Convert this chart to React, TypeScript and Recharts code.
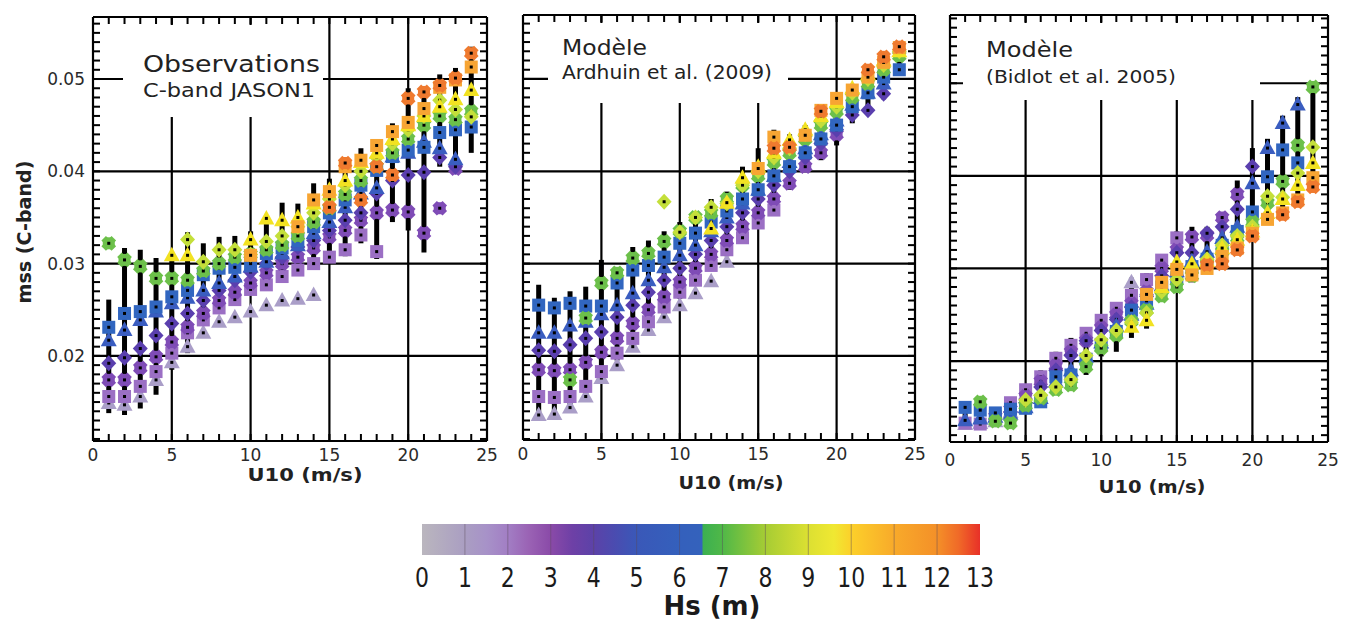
import React from 'react';
import { ScatterChart, Scatter, XAxis, YAxis, CartesianGrid, ErrorBar } from 'recharts';

// ---------- data ----------
const U10 = [1, 2, 3, 4, 5, 6, 7, 8, 9, 10, 11, 12, 13, 14, 15, 16, 17, 18, 19, 20, 21, 22, 23, 24];
const _ = null;

// Hs classes: colour + marker shape
const CLASS_COLORS = ['#aa9ec8', '#9b6fc4', '#7f4cb6', '#5a3fae', '#3a5dc0', '#3166c0', '#6cc04a', '#c4df3a', '#f2e222', '#f7a533', '#ef7a2f'];
const CLASS_SHAPES = ['tri', 'sq', 'cross', 'dia', 'tri', 'sq', 'cross', 'dia', 'tri', 'sq', 'cross'];

// Panel 1 : Observations C-band JASON1
const OBS_C0 = [0.0149, 0.0147, 0.0156, 0.0174, 0.0193, 0.021, 0.0225, 0.0237, 0.0242, 0.0248, 0.0255, 0.026, 0.0262, 0.0266, _, _, _, _, _, _, _, _, _, _];
const OBS_C1 = [0.0156, 0.0156, 0.0167, 0.0183, 0.0203, 0.0225, 0.0239, 0.0252, 0.0261, 0.0272, 0.0277, 0.0286, 0.0293, 0.03, 0.0307, 0.0315, 0.0331, 0.0313, _, _, _, _, _, _];
const OBS_C2 = [0.0174, 0.0174, 0.0187, 0.0199, 0.0215, 0.0231, 0.0246, 0.026, 0.0269, 0.0279, 0.029, 0.03, 0.0307, 0.0317, 0.0329, 0.0336, 0.0347, 0.0355, 0.0358, 0.0356, 0.0333, 0.036, 0.0403, _];
const OBS_C3 = [0.0192, 0.0198, 0.0208, 0.0222, 0.0235, 0.0246, 0.026, 0.0271, 0.0282, 0.0291, 0.03, 0.0307, 0.0318, 0.0325, 0.0336, 0.0347, 0.0355, 0.0376, 0.039, 0.0396, 0.0399, 0.0415, 0.0405, _];
const OBS_C4 = [0.0217, 0.0228, 0.0239, 0.0248, 0.0257, 0.0263, 0.0271, 0.0279, 0.0286, 0.0297, 0.0302, 0.0311, 0.032, 0.0333, 0.0345, 0.0361, 0.0376, 0.0382, 0.0416, 0.042, 0.0432, 0.0425, 0.0413, _];
const OBS_C5 = [0.0231, 0.0246, 0.0248, 0.0253, 0.0264, 0.0271, 0.0288, 0.0295, 0.0296, 0.03, 0.0311, 0.0317, 0.0325, 0.034, 0.0355, 0.0369, 0.0385, 0.0401, 0.0416, 0.0423, 0.0426, 0.0442, 0.0445, 0.0448];
const OBS_C6 = [0.0322, 0.0304, 0.0297, 0.0284, 0.0284, 0.0282, 0.0292, 0.03, 0.0307, 0.031, 0.0315, 0.032, 0.033, 0.0345, 0.036, 0.0375, 0.039, 0.0405, 0.042, 0.0435, 0.045, 0.046, 0.0456, 0.0465];
const OBS_C7 = [_, _, _, _, _, 0.0326, 0.0302, 0.0315, 0.0315, 0.031, 0.0324, 0.033, 0.034, 0.0355, 0.037, 0.0385, 0.04, 0.0415, 0.043, 0.0445, 0.046, 0.0477, 0.0467, 0.0459];
const OBS_C8 = [_, _, _, _, 0.0309, 0.0309, _, _, _, 0.0326, 0.0349, 0.0347, 0.035, 0.0365, 0.038, 0.039, 0.041, 0.042, 0.0435, 0.045, 0.046, 0.047, 0.0478, 0.0488];
const OBS_C9 = [_, _, _, _, _, _, _, _, _, 0.0309, _, _, 0.034, 0.0369, 0.0378, 0.0405, 0.0412, 0.0428, 0.0443, 0.0453, 0.0468, 0.0491, 0.0499, 0.0513];
const OBS_C10 = [_, _, _, _, _, _, _, _, _, _, _, _, _, _, 0.0361, 0.0409, 0.0369, 0.0405, 0.0396, 0.0479, 0.0486, 0.0493, 0.0501, 0.0528];
const OBS_BAR_LO = [0.0138, 0.0136, 0.0143, 0.0158, 0.0185, 0.0203, 0.0235, 0.025, 0.0258, 0.0268, 0.028, 0.0288, 0.0295, 0.0298, 0.0303, 0.0308, 0.0322, 0.0305, 0.0345, 0.0336, 0.0312, 0.0405, 0.04, 0.042];
const OBS_BAR_HI = [0.0261, 0.0317, 0.0315, 0.0306, 0.0307, 0.0334, 0.0322, 0.0329, 0.033, 0.0335, 0.0345, 0.0366, 0.0365, 0.0387, 0.0392, 0.0412, 0.0425, 0.0432, 0.0452, 0.049, 0.0485, 0.0505, 0.0512, 0.0535];

// Panel 2 : Modèle Ardhuin et al. (2009)
const ARD_C0 = [0.0136, 0.0137, 0.0144, 0.0156, 0.0176, 0.019, 0.021, 0.0228, 0.0242, 0.0255, 0.0268, 0.0281, 0.0302, _, _, _, _, _, _, _, _, _, _, _];
const ARD_C1 = [0.0156, 0.0155, 0.0156, 0.0167, 0.0183, 0.0203, 0.0219, 0.0237, 0.0253, 0.0269, 0.0282, 0.0298, 0.0315, 0.0328, 0.0344, 0.0358, _, _, _, _, _, _, _, _];
const ARD_C2 = [0.0185, 0.0184, 0.0185, 0.0193, 0.0204, 0.0219, 0.0235, 0.025, 0.0264, 0.028, 0.0295, 0.031, 0.0325, 0.034, 0.0355, 0.037, 0.0387, 0.0405, 0.042, 0.044, _, _, _, _];
const ARD_C3 = [0.0206, 0.0205, 0.0212, 0.0219, 0.0226, 0.0242, 0.0255, 0.0269, 0.0282, 0.0295, 0.031, 0.0325, 0.034, 0.0355, 0.037, 0.0385, 0.04, 0.0415, 0.043, 0.0445, 0.0461, 0.0466, 0.0484, _];
const ARD_C4 = [0.0225, 0.0225, 0.0233, 0.0237, 0.0245, 0.0255, 0.0268, 0.0282, 0.0296, 0.0309, 0.032, 0.0335, 0.035, 0.0365, 0.038, 0.0395, 0.041, 0.0425, 0.044, 0.0455, 0.0472, 0.0485, 0.0495, _];
const ARD_C5 = [0.0255, 0.0252, 0.0257, 0.0254, 0.0254, 0.0279, 0.0293, 0.0298, 0.0307, 0.0322, 0.0333, 0.0345, 0.0357, 0.037, 0.038, 0.0395, 0.0405, 0.042, 0.0435, 0.045, 0.047, 0.0485, 0.0502, 0.051];
const ARD_C6 = [_, _, 0.0174, 0.0241, 0.0279, 0.029, 0.0306, 0.0311, 0.0324, 0.0335, 0.035, 0.0355, 0.037, 0.0385, 0.0395, 0.041, 0.042, 0.0435, 0.045, 0.0465, 0.048, 0.0495, 0.051, 0.0525];
const ARD_C7 = [_, _, _, _, _, _, _, _, 0.0367, 0.0334, 0.035, 0.0361, 0.0365, 0.0385, 0.04, 0.0415, 0.0425, 0.044, 0.0455, 0.047, 0.0485, 0.05, 0.0515, 0.053];
const ARD_C8 = [_, _, _, _, _, _, _, _, _, _, _, 0.0338, 0.0366, 0.0393, 0.0405, 0.042, 0.0434, 0.0445, 0.046, 0.0475, 0.049, 0.0505, 0.052, 0.053];
const ARD_C9 = [_, _, _, _, _, _, _, _, _, _, _, _, _, _, 0.0403, 0.0437, _, 0.0439, 0.0466, 0.0479, 0.0488, 0.0502, 0.0518, 0.0534];
const ARD_C10 = [_, _, _, _, _, _, _, _, _, _, _, _, _, _, _, 0.0425, 0.0426, _, 0.0465, _, _, 0.051, 0.0524, 0.0535];
const ARD_BAR_LO = [0.0134, 0.0136, 0.0141, 0.0152, 0.0175, 0.0195, 0.0215, 0.023, 0.0245, 0.0262, 0.0278, 0.0292, 0.0308, 0.0325, 0.034, 0.0355, 0.038, 0.04, 0.0412, 0.0428, 0.0452, 0.0462, 0.0478, 0.0505];
const ARD_BAR_HI = [0.0277, 0.0263, 0.027, 0.0275, 0.0304, 0.0292, 0.0318, 0.0325, 0.0335, 0.0345, 0.0355, 0.037, 0.0378, 0.0405, 0.0425, 0.0445, 0.044, 0.045, 0.0468, 0.0482, 0.0492, 0.0508, 0.0522, 0.0535];

// Panel 3 : Modèle (Bidlot et al. 2005)
const BID_C0 = [0.0132, 0.0133, 0.0135, 0.0145, _, _, _, _, _, _, _, 0.0285, _, _, _, _, _, _, _, _, _, _, _, _];
const BID_C1 = [0.0133, 0.0132, 0.014, 0.0155, 0.0169, 0.0183, 0.0203, 0.0217, 0.023, 0.0244, 0.0257, 0.0271, 0.0288, 0.0309, 0.0333, _, _, _, _, _, _, _, _, _];
const BID_C2 = [_, _, 0.014, 0.0148, 0.0162, 0.0178, 0.0195, 0.021, 0.0222, 0.0236, 0.025, 0.0262, 0.0275, 0.03, 0.032, 0.0334, 0.0336, 0.0355, 0.038, _, _, _, _, _];
const BID_C3 = [_, _, _, 0.0145, 0.0155, 0.0172, 0.019, 0.0206, 0.0222, 0.0233, 0.0245, 0.0258, 0.027, 0.0292, 0.0317, 0.0317, 0.0338, 0.0345, 0.0364, 0.041, _, _, _, _];
const BID_C4 = [0.0136, 0.0138, 0.014, 0.0143, 0.015, 0.016, 0.0178, 0.019, 0.0205, 0.022, 0.0238, 0.025, 0.0262, 0.0282, 0.0297, 0.0308, 0.0318, 0.0333, 0.0345, 0.0392, 0.043, 0.0457, 0.0477, _];
const BID_C5 = [0.015, 0.0147, 0.0144, 0.0148, 0.0149, 0.0156, 0.0183, 0.0185, 0.0202, 0.0218, 0.0232, 0.0255, 0.0265, 0.028, 0.029, 0.0302, 0.031, 0.0325, 0.034, 0.0361, 0.0399, 0.0428, 0.0414, _];
const BID_C6 = [_, 0.0156, 0.0135, 0.0133, 0.0152, 0.016, 0.0169, 0.0174, 0.0194, 0.0214, 0.0228, 0.0243, 0.0255, 0.027, 0.028, 0.0292, 0.0305, 0.0318, 0.0333, 0.035, 0.0371, 0.0394, 0.0433, 0.0496];
const BID_C7 = [_, _, _, _, 0.0158, 0.0163, 0.0172, 0.018, 0.0206, 0.0223, 0.0233, 0.0242, 0.0252, 0.0275, 0.0288, 0.03, 0.031, 0.0325, 0.0335, 0.0345, 0.0378, 0.0377, 0.0403, 0.0431];
const BID_C8 = [_, _, _, _, _, _, _, _, _, _, _, 0.0237, 0.0244, 0.028, 0.0307, 0.0305, 0.0308, 0.0322, 0.0331, 0.034, 0.036, 0.0375, 0.039, 0.0414];
const BID_C9 = [_, _, _, _, _, _, _, _, _, _, _, _, 0.0272, 0.0285, 0.0299, 0.0293, 0.03, 0.0313, 0.0322, 0.0338, 0.0353, 0.036, 0.0374, 0.0398];
const BID_C10 = [_, _, _, _, _, _, _, _, _, _, _, _, _, _, _, _, 0.0304, 0.0305, 0.032, 0.0335, _, 0.0358, 0.0372, 0.0388];
const BID_BAR_LO = [0.0128, 0.0128, 0.013, 0.013, 0.0145, 0.015, 0.0165, 0.017, 0.0185, 0.0205, 0.021, 0.0225, 0.0235, 0.0265, 0.028, 0.0285, 0.0295, 0.0305, 0.032, 0.0335, 0.035, 0.0355, 0.037, 0.0385];
const BID_BAR_HI = [0.0155, 0.016, 0.015, 0.016, 0.0175, 0.019, 0.021, 0.0225, 0.0235, 0.025, 0.0262, 0.029, 0.0295, 0.0315, 0.034, 0.0345, 0.0345, 0.035, 0.0395, 0.043, 0.044, 0.0465, 0.0485, 0.05];

// axes / ticks
const X_TICKS = [0, 5, 10, 15, 20, 25];
const X_MINOR = [1, 2, 3, 4, 5, 6, 7, 8, 9, 10, 11, 12, 13, 14, 15, 16, 17, 18, 19, 20, 21, 22, 23, 24];
const Y_TICKS = [0.02, 0.03, 0.04, 0.05];
const Y_MINOR = [0.011, 0.012, 0.013, 0.014, 0.015, 0.016, 0.017, 0.018, 0.019, 0.02, 0.021, 0.022, 0.023, 0.024, 0.025, 0.026, 0.027, 0.028, 0.029, 0.03, 0.031, 0.032, 0.033, 0.034, 0.035, 0.036, 0.037, 0.038, 0.039, 0.04, 0.041, 0.042, 0.043, 0.044, 0.045, 0.046, 0.047, 0.048, 0.049, 0.05, 0.051, 0.052, 0.053, 0.054, 0.055, 0.056, 0.057];

// colour bar
const HS_TICKS = ['0', '1', '2', '3', '4', '5', '6', '7', '8', '9', '10', '11', '12', '13'];
const CB_STOP_HS = [0, 1, 1.5, 2, 2.5, 3, 3.5, 4, 4.5, 5, 6, 6.52, 6.55, 7, 8, 9, 9.6, 10, 11, 12, 12.5, 13];
const CB_STOP_COL = ['#bab6be', '#aa9ec2', '#a792c8', '#a27ec4', '#9a62b4', '#8a4aa8', '#6e40a6', '#5c42a8', '#4a4cb0', '#3a58b8', '#3460bc', '#3462bc', '#3cb050', '#50b848', '#a6cc34', '#dce032', '#f0e832', '#fcd02a', '#f8aa2a', '#f49028', '#f06a28', '#e83028'];

// ---------- rendering ----------
type Pt = { x: number; y: number };
function pts(vals: (number | null)[]): Pt[] {
  const out: Pt[] = [];
  U10.forEach((u, i) => {
    const v = vals[i];
    if (v != null) out.push({ x: u, y: v });
  });
  return out;
}
function bars(lo: number[], hi: number[]) {
  return U10.map((u, i) => ({ x: u, y: (lo[i] + hi[i]) / 2, err: [(hi[i] - lo[i]) / 2, (hi[i] - lo[i]) / 2] }));
}

function Marker(props: any) {
  const { cx, cy, kind, color } = props;
  if (cx == null || cy == null || isNaN(cx) || isNaN(cy)) return <g />;
  let el: any = null;
  if (kind === 'sq') el = <rect x={cx - 6.5} y={cy - 6.5} width={13} height={13} fill={color} />;
  else if (kind === 'tri') el = <polygon points={`${cx},${cy - 8.5} ${cx + 8},${cy + 6} ${cx - 8},${cy + 6}`} fill={color} />;
  else if (kind === 'dia') el = <polygon points={`${cx},${cy - 8} ${cx + 7.5},${cy} ${cx},${cy + 8} ${cx - 7.5},${cy}`} fill={color} />;
  else
    el = (
      <g transform={`translate(${cx},${cy})`}>
        <g transform="rotate(45)">
          <rect x={-7.2} y={-3.2} width={14.4} height={6.4} fill={color} />
          <rect x={-3.2} y={-7.2} width={6.4} height={14.4} fill={color} />
        </g>
        <rect x={-6} y={-2.6} width={12} height={5.2} fill={color} />
        <rect x={-2.6} y={-6} width={5.2} height={12} fill={color} />
      </g>
    );
  return (
    <g>
      {el}
      <rect x={cx - 1.5} y={cy - 1.5} width={3} height={3} fill="#000" />
    </g>
  );
}

const EmptyTick = () => <g />;
const ML = 60, MT = 10, MB = 40, MR = 10;
const FRAME = { stroke: '#000', strokeWidth: 2.5 };

type PanelGeom = { left: number; top: number; w: number; h: number; domain: [number, number] };
const P1: PanelGeom = { left: 93, top: 17, w: 394, h: 424, domain: [0.01078, 0.05672] };
const P2: PanelGeom = { left: 523, top: 15, w: 392, h: 425, domain: [0.01089, 0.05693] };
const P3: PanelGeom = { left: 950, top: 15, w: 378, h: 427, domain: [0.01126, 0.05737] };

function Panel(props: PanelGeom & { showY: boolean; classes: (number | null)[][]; lo: number[]; hi: number[]; tickMargin: number }) {
  const { left, top, w, h, domain, showY, classes, lo, hi, tickMargin } = props;
  return (
    <div style={{ position: 'absolute', left: left - ML, top: top - MT }}>
      <ScatterChart width={w + ML + MR} height={h + MT + MB} margin={{ top: MT, right: MR, left: 0, bottom: 0 }}>
        <CartesianGrid stroke="#000" strokeWidth={2.2} fill="none" />
        <XAxis xAxisId={0} type="number" dataKey="x" domain={[0, 25]} ticks={X_TICKS} allowDataOverflow height={MB}
          tickLine={false} axisLine={false} tickSize={6} tickMargin={tickMargin}
          tick={{ fill: '#2a2a2a', fontSize: 17, fontFamily: 'DejaVu Sans' }} />
        <XAxis xAxisId="top" orientation="top" mirror type="number" domain={[0, 25]} ticks={X_TICKS} allowDataOverflow height={0}
          tick={EmptyTick} tickLine={false} axisLine={FRAME} />
        <XAxis xAxisId="bot" orientation="bottom" mirror type="number" domain={[0, 25]} ticks={X_TICKS} allowDataOverflow height={0}
          tick={EmptyTick} tickLine={false} axisLine={FRAME} />
        <YAxis yAxisId={0} type="number" dataKey="y" domain={domain} ticks={Y_TICKS} allowDataOverflow width={ML}
          tickLine={false} axisLine={false} tickSize={6} tickMargin={2}
          tickFormatter={(v: number) => v.toFixed(2)}
          tick={showY ? { fill: '#2a2a2a', fontSize: 17, fontFamily: 'DejaVu Sans' } : EmptyTick} />
        <YAxis yAxisId="lm" orientation="left" mirror type="number" domain={domain} ticks={Y_TICKS} allowDataOverflow width={0}
          tick={EmptyTick} tickLine={false} axisLine={FRAME} />
        <YAxis yAxisId="rm" orientation="right" mirror type="number" domain={domain} ticks={Y_TICKS} allowDataOverflow width={0}
          tick={EmptyTick} tickLine={false} axisLine={FRAME} />
        <Scatter data={bars(lo, hi)} isAnimationActive={false} shape={() => <g />}>
          <ErrorBar dataKey="err" direction="y" width={0} stroke="#000" strokeWidth={5} isAnimationActive={false} />
        </Scatter>
        {classes.map((vals, ci) => (
          <Scatter key={ci} data={pts(vals)} isAnimationActive={false}
            shape={(p: any) => <Marker cx={p.cx} cy={p.cy} kind={CLASS_SHAPES[ci]} color={CLASS_COLORS[ci]} />} />
        ))}
      </ScatterChart>
    </div>
  );
}

// inward minor ticks on all four sides of a panel frame (drawn as small filled rects)
function frameTicks(g: PanelGeom, id: string) {
  const [y0, y1] = g.domain;
  const L = 7;
  const T = 2;
  const sx = (u: number) => g.left + (u / 25) * g.w;
  const sy = (v: number) => g.top + ((y1 - v) / (y1 - y0)) * g.h;
  const out: any[] = [];
  X_MINOR.forEach((u) => {
    out.push(<rect key={`${id}t${u}`} x={sx(u) - T / 2} y={g.top} width={T} height={L} fill="#000" />);
    out.push(<rect key={`${id}b${u}`} x={sx(u) - T / 2} y={g.top + g.h - L} width={T} height={L} fill="#000" />);
  });
  Y_MINOR.forEach((v) => {
    if (v <= y0 || v >= y1) return;
    out.push(<rect key={`${id}l${v}`} x={g.left} y={sy(v) - T / 2} width={L} height={T} fill="#000" />);
    out.push(<rect key={`${id}r${v}`} x={g.left + g.w - L} y={sy(v) - T / 2} width={L} height={T} fill="#000" />);
  });
  return out;
}

const FONT = 'DejaVu Sans, Verdana, sans-serif';

export default function App() {
  const cbX0 = 422, cbX1 = 980, cbY0 = 524, cbY1 = 555;
  const cbW = cbX1 - cbX0;
  return (
    <div style={{ position: 'absolute', left: 0, top: 0, width: 1345, height: 620, background: '#fff', overflow: 'hidden' }}>
      <Panel {...P1} showY tickMargin={2}
        classes={[OBS_C0, OBS_C1, OBS_C2, OBS_C3, OBS_C4, OBS_C5, OBS_C6, OBS_C7, OBS_C8, OBS_C9, OBS_C10]} lo={OBS_BAR_LO} hi={OBS_BAR_HI} />
      <Panel {...P2} showY={false} tickMargin={2}
        classes={[ARD_C0, ARD_C1, ARD_C2, ARD_C3, ARD_C4, ARD_C5, ARD_C6, ARD_C7, ARD_C8, ARD_C9, ARD_C10]} lo={ARD_BAR_LO} hi={ARD_BAR_HI} />
      <Panel {...P3} showY={false} tickMargin={6}
        classes={[BID_C0, BID_C1, BID_C2, BID_C3, BID_C4, BID_C5, BID_C6, BID_C7, BID_C8, BID_C9, BID_C10]} lo={BID_BAR_LO} hi={BID_BAR_HI} />

      <svg width={1345} height={620} style={{ position: 'absolute', left: 0, top: 0, pointerEvents: 'none' }}>
        <defs>
          <linearGradient id="hsGrad" x1="0" x2="1" y1="0" y2="0">
            {CB_STOP_HS.map((h, i) => (
              <stop key={i} offset={h / 13} stopColor={CB_STOP_COL[i]} />
            ))}
          </linearGradient>
        </defs>
        {frameTicks(P1, 'p1')}
        {frameTicks(P2, 'p2')}
        {frameTicks(P3, 'p3')}
        {/* title boxes */}
        <rect x={123} y={25} width={200} height={92} fill="#fff" />
        <rect x={548} y={23} width={240} height={80} fill="#fff" />
        <rect x={963} y={23} width={297} height={77} fill="#fff" />
        <g fill="#222" fontFamily={FONT}>
          <text x={143} y={72} fontSize={23} textLength={177} lengthAdjust="spacingAndGlyphs">Observations</text>
          <text x={143} y={97} fontSize={20} textLength={172} lengthAdjust="spacingAndGlyphs">C-band JASON1</text>
          <text x={562} y={55} fontSize={21} textLength={85} lengthAdjust="spacingAndGlyphs">Modèle</text>
          <text x={562} y={79} fontSize={19} textLength={210} lengthAdjust="spacingAndGlyphs">Ardhuin et al. (2009)</text>
          <text x={986} y={57} fontSize={21} textLength={87} lengthAdjust="spacingAndGlyphs">Modèle</text>
          <text x={986} y={83} fontSize={18} textLength={190} lengthAdjust="spacingAndGlyphs">(Bidlot et al. 2005)</text>
        </g>
        <g fill="#222" fontFamily={FONT} fontWeight="bold">
          <text x={0} y={0} fontSize={19} textAnchor="middle" textLength={143} lengthAdjust="spacingAndGlyphs"
            transform="translate(31,232) rotate(-90)">mss (C-band)</text>
          <text x={305} y={481} fontSize={18} textAnchor="middle" textLength={115} lengthAdjust="spacingAndGlyphs">U10 (m/s)</text>
          <text x={731} y={489} fontSize={18} textAnchor="middle" textLength={105} lengthAdjust="spacingAndGlyphs">U10 (m/s)</text>
          <text x={1152} y={493} fontSize={18} textAnchor="middle" textLength={107} lengthAdjust="spacingAndGlyphs">U10 (m/s)</text>
        </g>
        {/* colour bar */}
        <rect x={cbX0} y={cbY0} width={cbW} height={cbY1 - cbY0} fill="url(#hsGrad)" />
        {HS_TICKS.slice(1, 13).map((t, i) => {
          const x = cbX0 + ((i + 1) / 13) * cbW;
          return <line key={t} x1={x} x2={x} y1={cbY0} y2={cbY1} stroke="#5a4a5a" strokeOpacity={0.45} strokeWidth={1} />;
        })}
        <g fill="#1a1a1a" fontFamily={FONT}>
          {HS_TICKS.map((t, i) => (
            <text key={t} x={cbX0 + (i / 13) * cbW} y={587} fontSize={26} textAnchor="middle"
              textLength={t.length * 14} lengthAdjust="spacingAndGlyphs">{t}</text>
          ))}
          <text x={712} y={615} fontSize={26} fontWeight="bold" textAnchor="middle" textLength={97} lengthAdjust="spacingAndGlyphs">Hs (m)</text>
        </g>
      </svg>
    </div>
  );
}
